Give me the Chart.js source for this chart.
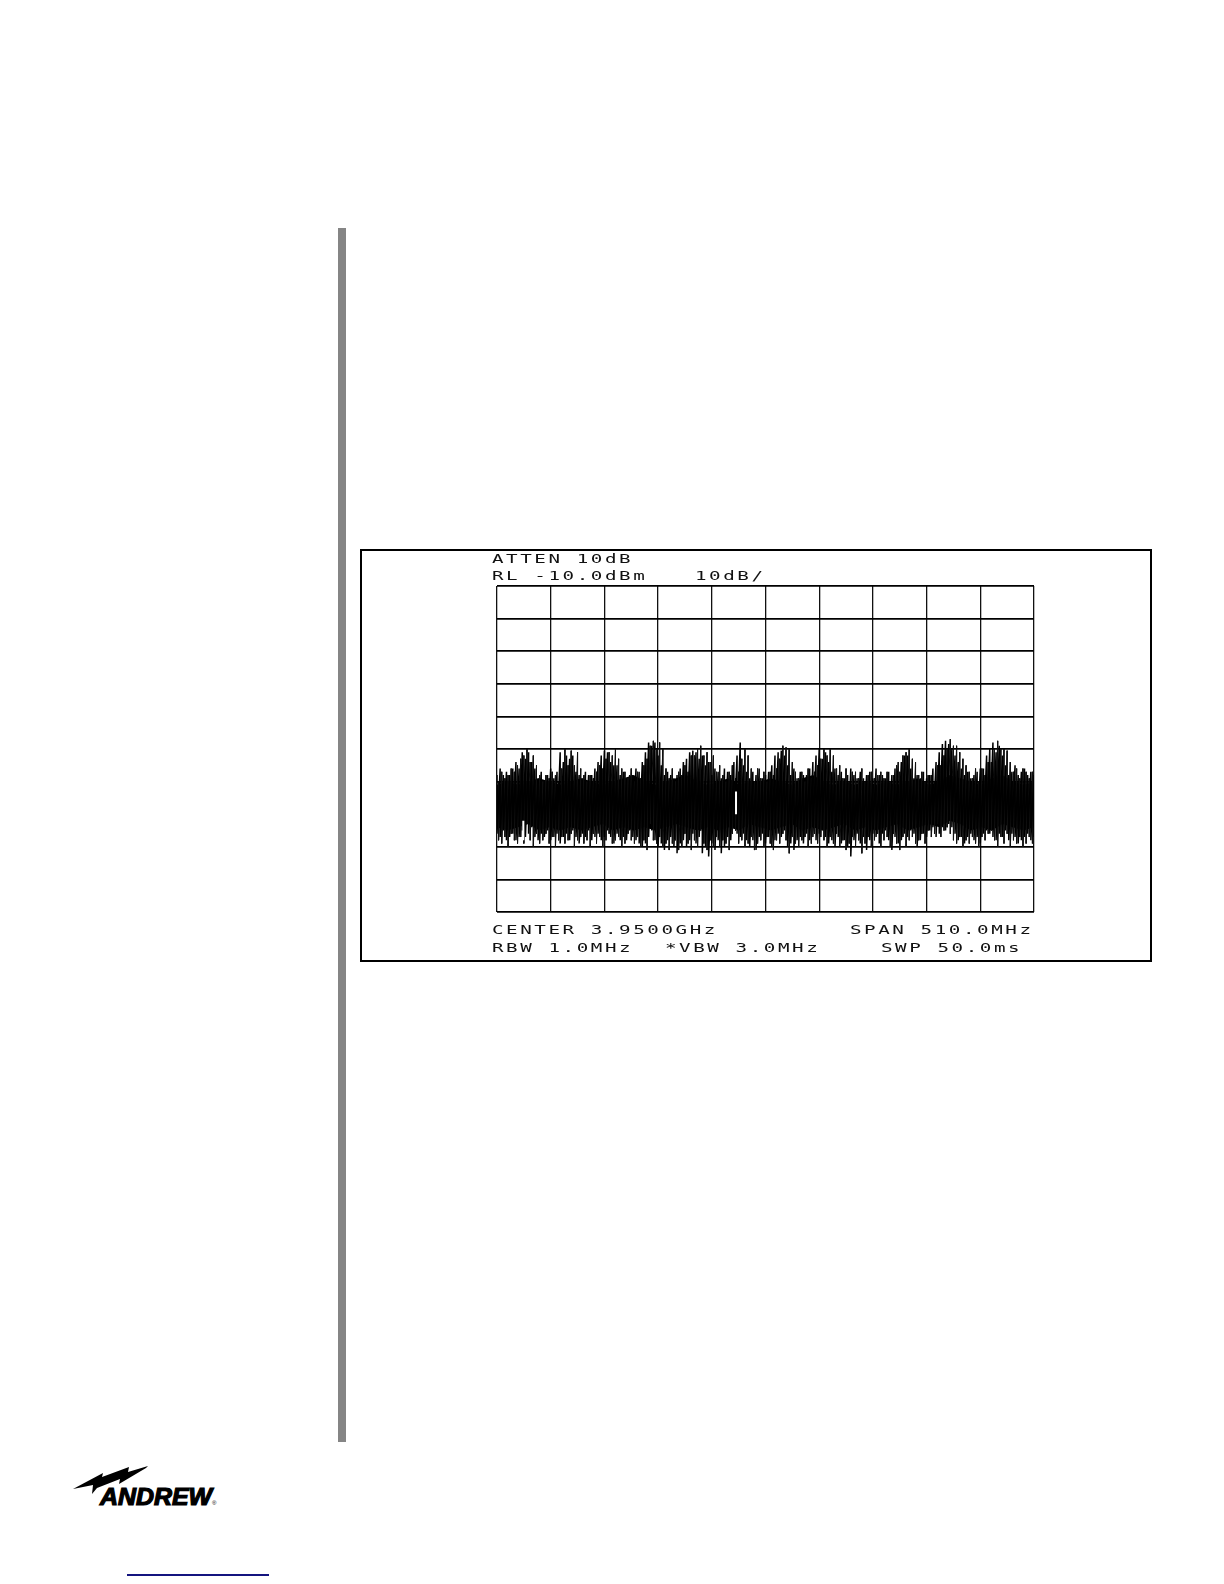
<!DOCTYPE html>
<html>
<head>
<meta charset="utf-8">
<title>Spectrum plot</title>
<script src="https://cdn.jsdelivr.net/npm/chart.js@4"></script>
<style>
    html, body { margin: 0; padding: 0; background: #fff; }
    body { position: relative; width: 1224px; height: 1584px; overflow: hidden; }
    #sideBar { position: absolute; left: 338px; top: 228px; width: 8px; height: 1214px; background: #858585; }
    #frame { position: absolute; left: 361px; top: 550px; border: 2px solid #000; box-sizing: border-box; margin: -1px; width: 792px; height: 413px; }
    #chartBox { position: absolute; left: 361px; top: 550px; width: 790px; height: 411px; }
    .plotText {
        position: absolute; white-space: pre; color: #111; line-height: 12px; height: 12px;
        font-family: "DejaVu Sans Mono", monospace; font-size: 12px; letter-spacing: 1.6px;
        transform: scaleX(1.6); transform-origin: left center;
    }
    #logo { position: absolute; left: 60px; top: 1450px; }
    #linkLine { position: absolute; left: 127px; top: 1574px; width: 142px; height: 2px; background: #14147f; }
</style>
</head>
<body>
<div id="sideBar"></div>
<div id="frame"></div>
<div id="chartBox"><canvas id="spectrumChart" width="790" height="411"></canvas></div>

<div class="plotText" style="left:492px; top:553px;">ATTEN 10dB</div>
<div class="plotText" style="left:492px; top:570px;">RL -10.0dBm</div>
<div class="plotText" style="left:695px; top:570px;">10dB/</div>
<div class="plotText" style="left:492px; top:924px;">CENTER 3.9500GHz</div>
<div class="plotText" style="left:850px; top:924px;">SPAN 510.0MHz</div>
<div class="plotText" style="left:492px; top:942px;">RBW 1.0MHz</div>
<div class="plotText" style="left:665px; top:942px;">*VBW 3.0MHz</div>
<div class="plotText" style="left:881px; top:942px;">SWP 50.0ms</div>

<svg id="logo" width="170" height="70" viewBox="60 1450 170 70">
    <polygon fill="#000" points="73,1489 103,1473 102,1477 129,1467 128,1472 148,1466 146,1468 119,1484 120,1479 97,1488 92,1494 93,1485"/>
    <text x="100" y="1505" font-family="Liberation Sans" font-weight="bold" font-style="italic" font-size="23" textLength="112" lengthAdjust="spacingAndGlyphs" stroke="#000" stroke-width="1.2">ANDREW</text>
    <text x="212" y="1505" font-family="Liberation Sans" font-size="6">®</text>
</svg>
<div id="linkLine"></div>

<script>
// sweep settings (MHz, dB)
const startFreq = 3695;
const stopFreq = 4205;
const divFreq = 51;
const refLevel = -10;
const bottomLevel = -110;
const divLevel = 10;

// peak and valley of the trace, one value per 3 MHz column
const peakDb = [
    -68,-66,-68,-67,-68,-66,-64,-66,
    -61,-63,-61,-64,-66,-69,-67,-70,-68,-66,
    -69,-67,-61,-64,-62,-63,-62,-67,-68,-69,
    -67,-68,-68,-66,-64,-62,-60.5,-61,-64,-65,
    -65,-68,-67,-69,-68,-68,-66,-67,-64,-61,
    -58,-59,-58,-62,-65,-68,-67,-68,-69,-68,
    -66,-64,-63,-61,-60.5,-61,-63,-62,-65,-64,
    -68,-66,-67,-69,-66,-67,-68,-64,-62,-58,
    -65,-67,-69,-67,-68,-66,-69,-68,-67,-65,
    -62,-61,-60.5,-62,-65,-68,-66,-69,-67,-68,
    -68,-66,-64,-62,-60,-63,-61,-64,-67,-66,
    -68,-67,-69,-68,-66,-68,-69,-67,-69,-68,
    -67,-69,-66,-68,-68,-69,-67,-68,-66,-64,
    -64,-62,-62,-66,-69,-68,-69,-67,-69,-68,
    -66,-64,-61,-58.5,-57.5,-58.5,-60,-62,-64,-66,
    -68,-67,-69,-68,-67,-66,-66,-62,-60,-58,
    -61,-59,-62,-65,-68,-67,-65,-68,-67,-66,-68,-67,-68
];
const valleyDb = [
    -86,-87,-85,-88,-87,-86,-88,-87,-85,-87,
    -86,-84,-87,-88,-86,-87,-85,-88,-87,-86,
    -89,-87,-86,-88,-85,-87,-89,-86,-87,-85,
    -88,-87,-86,-88,-87,-85,-87,-89,-86,-88,
    -87,-88,-85,-87,-88,-89,-90,-89,-87,-85,
    -88,-90,-89,-91,-88,-87,-90,-92,-89,-88,
    -90,-88,-86,-89,-87,-92,-90,-93,-89,-91,
    -88,-92,-90,-87,-88,-84,-86,-87,-86,-88,
    -90,-88,-91,-87,-86,-89,-87,-90,-88,-86,
    -87,-85,-90,-89,-91,-88,-87,-89,-86,-88,
    -87,-88,-86,-85,-87,-89,-88,-90,-87,-89,
    -88,-90,-93,-88,-86,-89,-87,-91,-88,-86,
    -87,-89,-86,-85,-88,-91,-87,-89,-88,-86,
    -87,-85,-86,-90,-88,-86,-87,-85,-84,-87,
    -86,-84,-85,-83,-84,-86,-88,-87,-89,-87,
    -86,-88,-87,-89,-86,-85,-86,-87,-88,-86,
    -87,-85,-88,-86,-87,-89,-88,-87,-86,-88,-87
];

// second pass of the sweep, half a column later
const peak2Db = [
    -70,-67,-69,-68,-66,-67,-65,-63,-62,-60,
    -64,-62,-65,-68,-70,-68,-69,-67,-68,-70,
    -66,-60,-65,-60.5,-65,-61,-66,-68,-70,-68,
    -69,-67,-65,-66,-63,-61,-62,-60,-63,-66,
    -67,-69,-66,-70,-67,-69,-65,-63,-59,-57.5,
    -60,-58,-60,-66,-69,-66,-70,-67,-68,-65,
    -67,-62,-62,-60,-59,-62,-61,-64,-62,-67,
    -65,-68,-70,-67,-65,-69,-67,-63,-60,-62,
    -66,-70,-66,-69,-67,-70,-67,-68,-66,-63,
    -59,-59.5,-60,-64,-67,-69,-67,-70,-66,-69,
    -67,-65,-63,-60,-62,-60,-62,-66,-65,-69,
    -66,-70,-67,-67,-69,-66,-70,-68,-67,-69,
    -68,-67,-69,-67,-70,-68,-65,-67,-62,-61,
    -60,-63,-64,-68,-67,-70,-68,-68,-70,-65,
    -65,-62,-60,-57,-59,-59,-61,-63,-65,-67,
    -69,-66,-70,-66,-68,-64,-64,-60,-57.5,-60,
    -60,-60.5,-64,-67,-66,-69,-66,-67,-69,-67
];
const valley2Db = [
    -88,-89,-87,-90,-86,-88,-89,-87,-89,-83,
    -88,-90,-86,-89,-88,-86,-89,-87,-90,-88,
    -87,-89,-88,-86,-90,-88,-87,-89,-88,-90,
    -86,-89,-87,-90,-88,-86,-89,-88,-87,-90,
    -89,-86,-88,-89,-87,-90,-88,-91,-83,-88,
    -89,-87,-90,-89,-91,-89,-88,-91,-90,-86,
    -89,-91,-88,-90,-85,-89,-91,-88,-90,-87,
    -90,-88,-89,-91,-86,-85,-89,-88,-90,-89,
    -87,-91,-89,-88,-90,-87,-89,-91,-88,-89,
    -86,-88,-92,-87,-89,-90,-88,-87,-90,-89,
    -86,-89,-87,-88,-90,-87,-89,-86,-90,-88,
    -91,-89,-87,-90,-88,-92,-89,-87,-90,-88,
    -86,-90,-88,-87,-90,-86,-89,-91,-87,-90,
    -88,-87,-89,-88,-86,-89,-85,-87,-86,-83,
    -87,-85,-84,-86,-88,-89,-87,-90,-88,-89,
    -87,-89,-90,-87,-88,-86,-85,-88,-90,-87,
    -89,-86,-90,-88,-89,-87,-90,-89,-87,-89
];

// solid black middle of the trace, one value per 10 MHz
const coreTopDb = [
    -71,-70,-71,-70,-69,-70,-71,-70,-69,-70,-71,-70,-69,
    -68,-70,-71,-70,-69,-68,-70,-71,-70,-69,-71,-70,-70,
    -69,-70,-71,-69,-68,-70,-71,-70,-71,-70,-71,-70,-71,
    -70,-69,-71,-70,-68,-69,-70,-71,-69,-68,-70,-71,-70,-71
];
const coreBottomDb = [
    -84,-85,-84,-83,-85,-84,-85,-84,-85,-84,-83,-85,-84,
    -85,-84,-85,-84,-83,-84,-85,-84,-85,-84,-85,-83,-84,
    -85,-84,-83,-85,-84,-85,-84,-83,-85,-84,-85,-84,-83,
    -85,-84,-83,-84,-82,-83,-85,-84,-85,-83,-84,-85,-84,-85
];

// white gaps left in the trace
const gapFreqs = [3922, 3720];
const gapTopDb = [-73, -82];
const gapBottomDb = [-80, -88];

// zigzag peak to valley, like the analyser pen did
function zigzag(peaks, valleys, firstFreq) {
    const points = [];
    peaks.forEach((peak, i) => {
        points.push({ x: firstFreq + i * 3, y: peak });
        points.push({ x: firstFreq + i * 3, y: valleys[i] });
    });
    return points;
}

const coreTop = coreTopDb.map((v, i) => ({ x: startFreq + i * 10, y: v }));
const coreBottom = coreBottomDb.map((v, i) => ({ x: startFreq + i * 10, y: v }));

function gapDataset(i) {
    return {
        data: [{ x: gapFreqs[i], y: gapTopDb[i] }, { x: gapFreqs[i], y: gapBottomDb[i] }],
        borderColor: '#fff',
        borderWidth: 2,
        pointRadius: 0,
        order: 1
    };
}

const ctx = document.getElementById('spectrumChart').getContext('2d');
new Chart(ctx, {
    type: 'line',
    data: {
        datasets: [
            {
                data: coreTop,
                borderColor: '#000',
                borderWidth: 0,
                backgroundColor: '#000',
                pointRadius: 0,
                fill: '+1',
                order: 3
            },
            {
                data: coreBottom,
                borderColor: '#000',
                borderWidth: 0,
                pointRadius: 0,
                fill: false,
                order: 3
            },
            {
                data: zigzag(peakDb, valleyDb, startFreq),
                borderColor: '#000',
                borderWidth: 1.5,
                pointRadius: 0,
                tension: 0,
                fill: false,
                order: 2
            },
            {
                data: zigzag(peak2Db, valley2Db, startFreq + 1.5),
                borderColor: '#111',
                borderWidth: 1,
                pointRadius: 0,
                tension: 0,
                fill: false,
                order: 2
            },
            gapDataset(0),
            gapDataset(1)
        ]
    },
    options: {
        responsive: false,
        animation: false,
        layout: { padding: { left: 136, top: 36, right: 117, bottom: 49 } },
        plugins: { legend: { display: false }, tooltip: { enabled: false }, title: { display: false } },
        scales: {
            x: {
                type: 'linear',
                min: startFreq,
                max: stopFreq,
                border: { display: false },
                ticks: { stepSize: divFreq, display: false },
                grid: { color: '#111', lineWidth: 1.3, drawTicks: false }
            },
            y: {
                type: 'linear',
                min: bottomLevel,
                max: refLevel,
                border: { display: false },
                ticks: { stepSize: divLevel, display: false },
                grid: { color: '#000', lineWidth: 1.7, drawTicks: false }
            }
        }
    }
});
</script>
</body>
</html>
